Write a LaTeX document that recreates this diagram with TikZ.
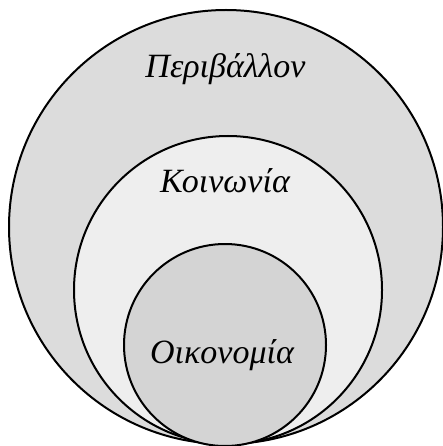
\documentclass[tikz,border=0pt]{standalone}
\usepackage{fontspec}
\setmainfont{Liberation Serif}

\begin{document}
\begin{tikzpicture}[x=1pt,y=-1pt]
\tikzstyle{every node}+=[inner sep=0pt]
\tikzstyle{ring}=[draw=black,line width=2pt]
\tikzstyle{label}=[font=\fontsize{34}{40}\selectfont\itshape,anchor=base]
\useasboundingbox (0,0) rectangle (442,446);
\filldraw [ring,fill={rgb,255:red,220;green,220;blue,220}] (226,227) circle (217);
\filldraw [ring,fill={rgb,255:red,238;green,238;blue,238}] (228,290) circle (154);
\filldraw [ring,fill={rgb,255:red,212;green,212;blue,212}] (225,345) circle (101);
\node [label] (env) at (225.5,78) {Περιβάλλον};
\node [label] (soc) at (225,193) {Κοινωνία};
\node [label] (eco) at (222,363) {Οικονομία};
\end{tikzpicture}
\end{document}
